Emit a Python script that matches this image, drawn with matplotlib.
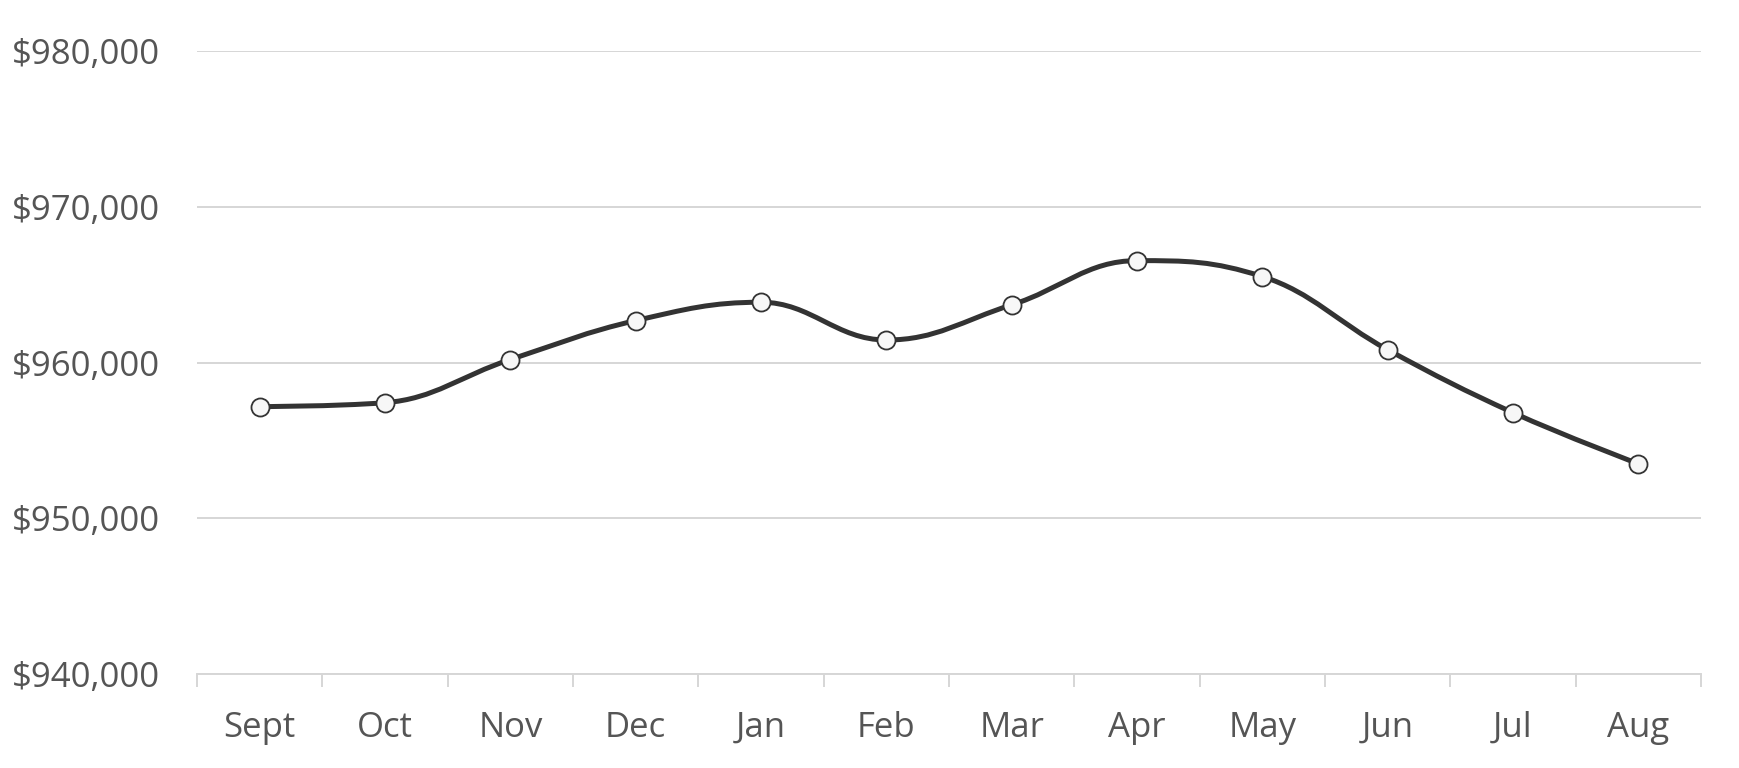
import matplotlib
matplotlib.use("Agg")
import matplotlib.pyplot as plt
from matplotlib.path import Path
from matplotlib.patches import PathPatch
from matplotlib.ticker import FixedLocator, FuncFormatter

months = ["Sept", "Oct", "Nov", "Dec", "Jan", "Feb", "Mar", "Apr", "May", "Jun", "Jul", "Aug"]
values = [957170, 957420, 960190, 962690, 963870, 961445, 963700, 966540, 965520, 960820, 956780, 953500]
y_ticks = [940000, 950000, 960000, 970000, 980000]

plt.rcParams['font.family'] = ['Open Sans', 'DejaVu Sans']

TEXT = "#555555"
GRID = "#d6d6d6"
LINE = "#333333"


def spline_path(xs, ys, smoothing=1.5):
    n = len(xs)
    left = [None] * n
    right = [None] * n
    for i in range(1, n - 1):
        lx, ly = xs[i - 1], ys[i - 1]
        px, py = xs[i], ys[i]
        nx, ny = xs[i + 1], ys[i + 1]
        d = smoothing + 1
        lcx = (smoothing * px + lx) / d
        lcy = (smoothing * py + ly) / d
        rcx = (smoothing * px + nx) / d
        rcy = (smoothing * py + ny) / d
        if rcx != lcx:
            corr = ((rcy - lcy) * (rcx - px)) / (rcx - lcx) + py - rcy
            lcy += corr
            rcy += corr
        if lcy > ly and lcy > py:
            lcy = max(ly, py)
            rcy = 2 * py - lcy
        elif lcy < ly and lcy < py:
            lcy = min(ly, py)
            rcy = 2 * py - lcy
        if rcy > ny and rcy > py:
            rcy = max(ny, py)
            lcy = 2 * py - rcy
        elif rcy < ny and rcy < py:
            rcy = min(ny, py)
            lcy = 2 * py - rcy
        left[i] = (lcx, lcy)
        right[i] = (rcx, rcy)
    verts = [(xs[0], ys[0])]
    codes = [Path.MOVETO]
    for i in range(1, n):
        c1 = right[i - 1] if right[i - 1] is not None else (xs[i - 1], ys[i - 1])
        c2 = left[i] if left[i] is not None else (xs[i], ys[i])
        verts += [c1, c2, (xs[i], ys[i])]
        codes += [Path.CURVE4] * 3
    return Path(verts, codes)


fig = plt.figure(figsize=(17.39, 7.68), dpi=100)
ax = fig.add_axes([197 / 1739, 1 - 674 / 768, (1701 - 197) / 1739, (674 - 51) / 768])

xs = list(range(len(months)))
ax.add_patch(PathPatch(spline_path(xs, values), facecolor="none", edgecolor=LINE,
                       lw=3.6, capstyle="round", joinstyle="round", zorder=3))
ax.plot(xs, values, linestyle="none", marker="o", markersize=13,
        markerfacecolor="#f7f7f7", markeredgecolor=LINE, markeredgewidth=1.3, zorder=4)

ax.set_xlim(-0.5, len(months) - 0.5)
ax.set_ylim(y_ticks[0], y_ticks[-1])

ax.set_yticks(y_ticks)
ax.yaxis.set_major_formatter(FuncFormatter(lambda v, p: f"${v:,.0f}"))
ax.tick_params(axis="y", length=0, pad=27, labelsize=25, labelcolor=TEXT)
ax.grid(axis="y", color=GRID, lw=1.4)
ax.set_axisbelow(True)

ax.xaxis.set_major_locator(FixedLocator([i - 0.5 for i in range(len(months) + 1)]))
ax.xaxis.set_major_formatter(FuncFormatter(lambda v, p: ""))
ax.xaxis.set_minor_locator(FixedLocator(xs))
ax.set_xticklabels(months, minor=True)
ax.tick_params(axis="x", which="major", length=9, width=1.4, color=GRID, direction="out")
ax.tick_params(axis="x", which="minor", length=0, pad=26.5, labelsize=25, labelcolor=TEXT)

for s in ["top", "right", "left"]:
    ax.spines[s].set_visible(False)
ax.spines["bottom"].set_color(GRID)
ax.spines["bottom"].set_linewidth(1.4)

fig.savefig("out.png", dpi=100, facecolor="white")
